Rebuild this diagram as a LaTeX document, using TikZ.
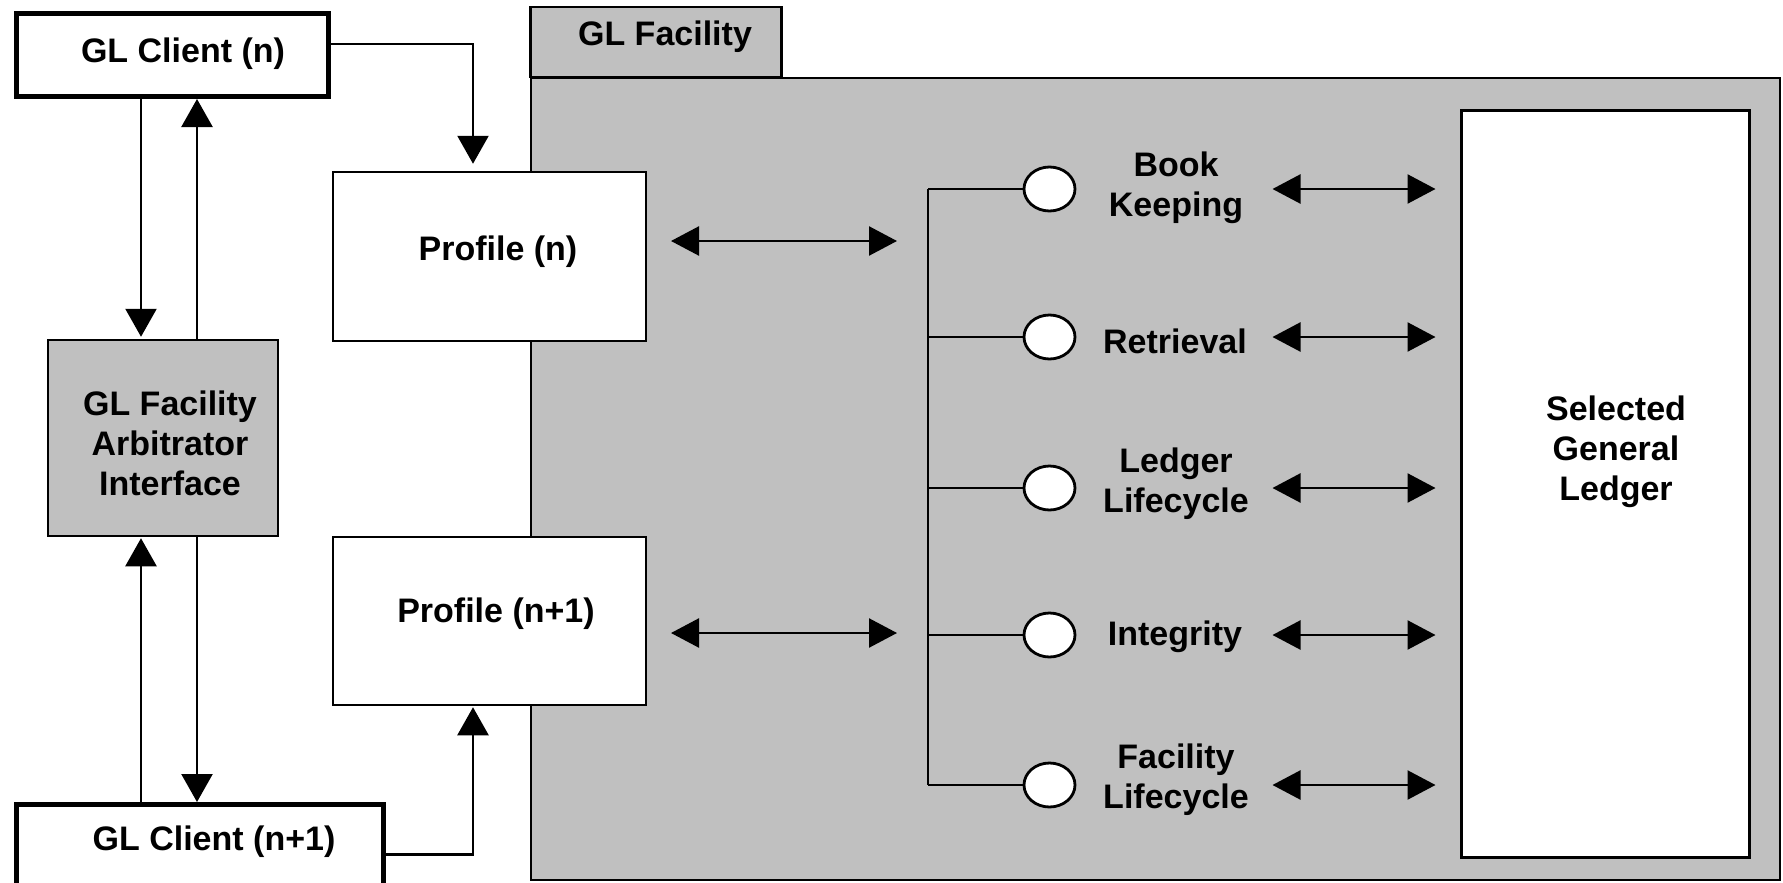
\documentclass[tikz,border=0pt]{standalone}
\usepackage{fontspec}
\setmainfont{Liberation Sans}
\usetikzlibrary{arrows.meta,shapes.geometric}
\definecolor{panelgray}{RGB}{192,192,192}
\tikzset{
  lbl/.style={font=\bfseries\fontsize{34}{40}\selectfont, inner sep=0pt, align=center, yshift=-4pt},
  thinbox/.style={draw, line width=2.5pt, inner sep=0pt},
  clientbox/.style={draw, line width=5pt, fill=white, inner sep=0pt},
  conn/.style={line width=2.4pt, -{Triangle[length=28pt,width=31pt]}},
  dbl/.style={line width=2.4pt, {Triangle[length=28pt,width=29pt]}-{Triangle[length=28pt,width=29pt]}},
  port/.style={ellipse, draw, line width=2.8pt, fill=white, minimum width=51pt, minimum height=44pt, inner sep=0pt},
  wire/.style={line width=2.4pt},
}
\begin{document}
\begin{tikzpicture}[x=1pt,y=-1pt]
\useasboundingbox (0,0) rectangle (1783,883);
\clip (0,0) rectangle (1783,883);

% facility panel with its tab
\node[thinbox, fill=panelgray, minimum width=1249pt, minimum height=802pt] (panel) at (1155.5,479) {};
\node[thinbox, fill=panelgray, minimum width=251pt, minimum height=70pt] (tab) at (656,42) {};
\node[lbl] (tabtxt) at (665,33) {GL Facility};

% clients and arbitrator
\node[clientbox, minimum width=312pt, minimum height=83pt] (cn) at (172.5,55) {};
\node[lbl] (cntxt) at (183,50) {GL Client (n)};
\node[clientbox, minimum width=367pt, minimum height=100pt] (cn1) at (200,854.5) {};
\node[lbl] (cn1txt) at (214,838) {GL Client (n+1)};
\node[thinbox, fill=panelgray, minimum width=230pt, minimum height=196pt] (arb) at (163,438) {};
\node[lbl] (arbtxt) at (170,439) {GL Facility\\Arbitrator\\Interface};

% profiles
\node[thinbox, fill=white, minimum width=313pt, minimum height=169pt] (pn) at (489.5,256.5) {};
\node[lbl] (pntxt) at (498,248) {Profile (n)};
\node[thinbox, fill=white, minimum width=313pt, minimum height=168pt] (pn1) at (489.5,621) {};
\node[lbl] (pn1txt) at (496,610) {Profile (n+1)};

% selected ledger
\node[thinbox, line width=3pt, fill=white, minimum width=288pt, minimum height=747pt] (gl) at (1605,483.5) {};
\node[lbl] (gltxt) at (1616,448) {Selected\\General\\Ledger};

% helper columns
\coordinate (xa) at (141,0);
\coordinate (xb) at (197,0);
\coordinate (xc) at (473,0);

% client / arbitrator traffic
\draw[conn, shorten >=2pt] (cn.south -| xa) -- (arb.north -| xa);
\draw[conn] (arb.north -| xb) -- (cn.south -| xb);
\draw[conn, shorten >=1pt] (cn1.north -| xa) -- (arb.south -| xa);
\draw[conn] (arb.south -| xb) -- (cn1.north -| xb);

% client to profile
\draw[conn, shorten >=7pt] ([yshift=11pt]cn.east) -| (pn.north -| xc);
\draw[conn, shorten >=1pt] (cn1.east) -| (pn1.south -| xc);

% profile to service bus
\coordinate (pnL) at (671,241);
\coordinate (pnR) at (897,241);
\coordinate (pn1L) at (671,633);
\coordinate (pn1R) at (897,633);
\draw[dbl] (pnL) -- (pnR);
\draw[dbl] (pn1L) -- (pn1R);

% service bus
\coordinate (busT) at (928,189);
\coordinate (busB) at (928,785);
\draw[wire] (busT) -- (busB);

% services
\node[port] (c1) at (1049.5,189) {};
\node[port] (c2) at (1049.5,337) {};
\node[port] (c3) at (1049.5,488) {};
\node[port] (c4) at (1049.5,635) {};
\node[port] (c5) at (1049.5,785) {};
\node[lbl] (s1) at (1176,184) {Book\\Keeping};
\node[lbl] (s2) at (1175,337) {Retrieval};
\node[lbl] (s3) at (1176,480) {Ledger\\Lifecycle};
\node[lbl] (s4) at (1175,633) {Integrity};
\node[lbl] (s5) at (1176,776) {Facility\\Lifecycle};

\foreach \k in {1,...,5}{
  \draw[wire] (c\k.west -| busT) -- (c\k.west);
  \coordinate (aL\k) at ([xshift=-187pt]gl.west |- c\k.center);
  \coordinate (aR\k) at ([xshift=-24pt]gl.west |- c\k.center);
  \draw[dbl] (aL\k) -- (aR\k);
}
\end{tikzpicture}
\end{document}
